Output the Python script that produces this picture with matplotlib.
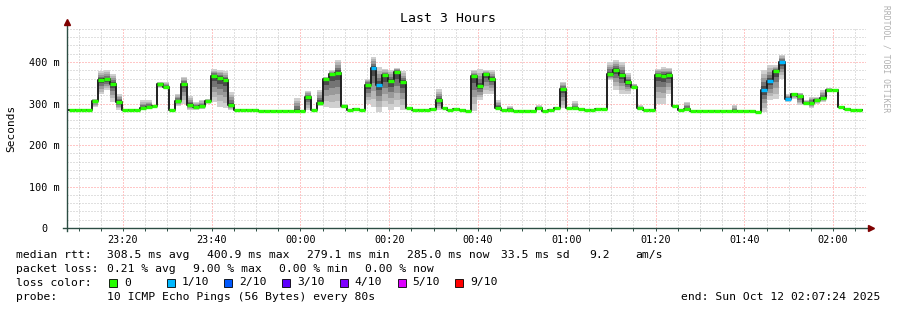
import numpy as np
import matplotlib.pyplot as plt
from matplotlib.patches import Rectangle

plt.rcParams['font.family'] = 'DejaVu Sans Mono'

# median rtt of each 80 s probe round (ms), smoke range and lost pings (of 10)
median = [285, 285, 285, 285, 306, 356, 358, 347, 304, 285.5,
          285.5, 285.5, 288, 292, 293, 346, 340, 285, 306, 347,
          296, 292, 293, 305, 366, 362, 356, 296, 284, 284,
          284, 284, 283, 283, 283, 283, 282, 282, 281, 281,
          316, 284, 301, 359, 370, 374, 293, 284, 287, 284,
          345, 386, 345, 368, 355, 376, 351, 290, 284, 284,
          284, 287, 308, 290, 284, 286, 284, 281, 366, 342,
          370, 359, 290, 284, 284, 282, 282, 282, 282, 288,
          282, 284, 289, 334, 288, 288, 287, 284, 284, 287,
          287, 370, 380, 368, 351, 340, 288, 284, 284, 368,
          366, 369, 293, 284, 287, 281.5, 281.5, 281.5, 281.5, 281.5,
          281.5, 281.5, 282, 282, 281, 281, 279, 332, 354, 378,
          399, 310, 322, 318, 302, 302, 308, 313, 332, 332,
          292, 286, 284, 284]
smoke_lo = [285, 285, 285, 285, 292, 322, 332, 304, 285, 285.5,
            285.5, 285.5, 284, 290, 293, 337, 334, 285, 294, 300,
            284, 284, 286, 300, 303, 292, 288, 284, 284, 284,
            284, 284, 283, 283, 283, 283, 282, 282, 281, 281,
            284, 284, 294, 292, 288, 288, 288, 284, 287, 284,
            298, 292, 279, 292, 284, 292, 284, 290, 284, 284,
            284, 287, 284, 290, 284, 286, 284, 281, 281, 308,
            324, 324, 286, 284, 284, 282, 282, 282, 282, 286,
            282, 284, 289, 288, 288, 288, 287, 284, 284, 287,
            287, 356, 332, 324, 324, 336, 284, 284, 284, 300,
            300, 322, 290, 284, 284, 281.5, 281.5, 281.5, 281.5, 281.5,
            281.5, 281.5, 282, 282, 280, 281, 279, 280, 308, 310,
            360, 304, 310, 296, 296, 288, 300, 304, 328, 332,
            292, 286, 284, 284]
smoke_hi = [285, 285, 285, 285, 312, 378, 380, 372, 323, 285.5,
            285.5, 285.5, 308, 308, 293, 352, 351, 285, 324, 364,
            318, 304, 308, 312, 382, 380, 378, 328, 284, 284,
            284, 284, 283, 283, 283, 283, 282, 282, 313, 281,
            330, 284, 333, 365, 380, 406, 298, 284, 287, 284,
            360, 412, 388, 383, 380, 386, 378, 290, 284, 284,
            284, 287, 334, 290, 284, 286, 284, 281, 380, 382,
            380, 380, 308, 284, 294, 282, 282, 282, 282, 296,
            282, 284, 289, 352, 288, 306, 287, 284, 284, 287,
            287, 400, 404, 400, 374, 348, 296, 284, 284, 384,
            388, 386, 296, 284, 304, 281.5, 281.5, 281.5, 281.5, 281.5,
            281.5, 281.5, 296, 282, 283, 281, 279, 380, 392, 392,
            418, 324, 326, 326, 308, 316, 316, 332, 338, 332,
            292, 286, 284, 284]
loss = [0] * 51 + [1, 1] + [0] * 64 + [1, 1, 0, 1, 1] + [0] * 12

t0 = 7.78          # first probe, minutes after 23:00
step = 80 / 60.0   # one probe every 80 s

xticks = [20, 40, 60, 80, 100, 120, 140, 160, 180]
xlabels = ["23:20", "23:40", "00:00", "00:20", "00:40", "01:00", "01:20", "01:40", "02:00"]
yticks = [0, 100, 200, 300, 400]
ylabels = ["0  ", "100 m", "200 m", "300 m", "400 m"]

loss_names = ["0", "1/10", "2/10", "3/10", "4/10", "5/10", "9/10"]
loss_cols = ["#26ff00", "#00b8ff", "#0059ff", "#5e00ff", "#7e00ff", "#dd00ff", "#ff0000"]

W, H = 897, 310
fig = plt.figure(figsize=(W / 100, H / 100), dpi=100)
fig.patch.set_facecolor("white")
ax = fig.add_axes([67 / W, 1 - 228 / H, 799 / W, 200 / H])
ax.set_xlim(7.4, 187.4)
ax.set_ylim(0, 482)

t = t0 + np.arange(len(median)) * step
med = np.array(median, dtype=float)
lo = np.array(smoke_lo, dtype=float)
hi = np.array(smoke_hi, dtype=float)

# smoke: nested bands getting darker toward the median
shades = ["#d0d0d0", "#b6b6b6", "#999999", "#747474", "#4a4a4a"]
for j, c in enumerate(shades):
    f = 1 - j / len(shades)
    bot = med - (med - lo) * f
    top = med + (hi - med) * f
    ax.bar(t, top - bot, bottom=bot, width=step, align="edge", color=c, linewidth=0, zorder=2)

# median line and loss-coloured caps
ax.step(np.append(t, t[-1] + step), np.append(med, med[-1]), where="post",
        color="#202020", lw=1.4, zorder=3)
cols = []
for l in loss:
    cols.append(loss_cols[l])
ax.hlines(med, t, t + step, colors=cols, lw=2.4, zorder=4, capstyle="butt")

# grid
ax.set_xticks(xticks)
ax.set_xticklabels(xlabels)
ax.set_xticks(np.arange(10, 190, 5), minor=True)
ax.set_yticks(yticks)
ax.set_yticklabels(ylabels)
ax.set_yticks(np.arange(0, 481, 20), minor=True)
ax.grid(which="minor", color="#999999", alpha=0.6, ls=(0, (1, 2)), lw=0.72)
ax.grid(which="major", color="#ff5e5e", alpha=0.7, ls=(0, (1, 2)), lw=0.72)
ax.set_axisbelow(True)
ax.tick_params(axis="x", which="both", direction="out", length=2, width=0.7,
               color="#2c4d43", labelsize=7.3, pad=3)
ax.tick_params(axis="y", which="both", length=0, labelsize=7.3, pad=5)
for s in ax.spines.values():
    s.set_visible(False)

# axes with arrows
ax.plot([-4 / 799, 1 + 3 / 799], [0, 0], transform=ax.transAxes, color="#2c4d43",
        lw=1.0, clip_on=False, zorder=5)
ax.plot([0, 0], [-3 / 200, 1 + 4 / 200], transform=ax.transAxes, color="#2c4d43",
        lw=1.0, clip_on=False, zorder=5)
ax.plot([1 + 5 / 799], [0], marker=">", ms=4, color="#7f0000", transform=ax.transAxes,
        clip_on=False, zorder=6)
ax.plot([0], [1 + 6 / 200], marker="^", ms=4, color="#7f0000", transform=ax.transAxes,
        clip_on=False, zorder=6)

ax.set_ylabel("Seconds", fontsize=8)
ax.yaxis.set_label_coords(-51 / 799, 0.5)
fig.text(448 / W, 1 - 19 / H, "Last 3 Hours", ha="center", va="center", fontsize=9.5)
fig.text(886 / W, 1 - 5 / H, "RRDTOOL / TOBI OETIKER", rotation=270, ha="center", va="top",
         fontsize=5.8, color="#b0b0b0")

# text legend below the graph
fs = 8.2
def put(x, y, s):
    fig.text(x / W, 1 - y / H, s, ha="left", va="center", fontsize=fs)

row1 = [("median rtt:", 16), ("308.5 ms avg", 107), ("400.9 ms max", 207), ("279.1 ms min", 307),
        ("285.0 ms now", 407), ("33.5 ms sd", 501), ("9.2", 589), ("am/s", 635)]
row2 = [("packet loss:", 16), ("0.21 % avg", 107), ("9.00 % max", 193), ("0.00 % min", 279),
        ("0.00 % now", 365)]
for s, x in row1:
    put(x, 255, s)
for s, x in row2:
    put(x, 268.5, s)

put(16, 282.5, "loss color:")
for i in range(len(loss_names)):
    bx = 109 + i * 57.7
    fig.patches.append(Rectangle((bx / W, 1 - 286.5 / H), 8 / W, 8 / H, transform=fig.transFigure,
                                 facecolor=loss_cols[i], edgecolor="black", lw=0.6))
    put(bx + 15, 282.5, loss_names[i])

put(16, 296.5, "probe:")
put(107, 296.5, "10 ICMP Echo Pings (56 Bytes) every 80s")
fig.text(880 / W, 1 - 296.5 / H, "end: Sun Oct 12 02:07:24 2025", ha="right", va="center", fontsize=fs)

plt.savefig("out.png", dpi=100)
